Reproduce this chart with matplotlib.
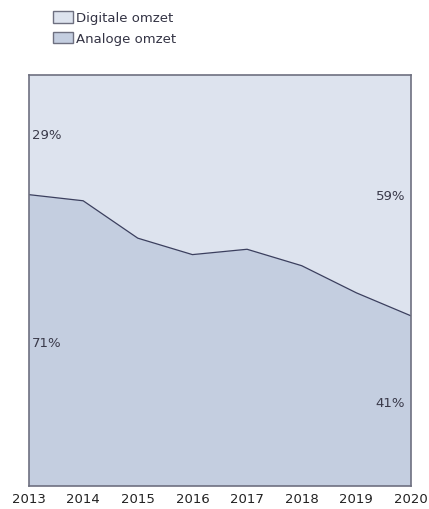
#%% IMPORTS
import matplotlib
matplotlib.use('Agg')
from matplotlib import pyplot as plt
from matplotlib.patches import Patch

#%% DATA
years = [2013, 2014, 2015, 2016, 2017, 2018, 2019, 2020]
analoog = [70.9, 69.4, 60.3, 56.3, 57.6, 53.6, 47.0, 41.4]   # % analoge omzet
digitaal = [100 - a for a in analoog]
series_names = ['Digitale omzet', 'Analoge omzet']
start_labels = ['29%', '71%']
end_labels = ['59%', '41%']

#%% STYLE
c_dig = '#dde3ee'
c_ana = '#c4cee0'
c_line = '#3b3f5e'
c_edge = '#6e7080'
c_text = '#3a3a4a'
fs = 9.5

#%% PLOT
fig = plt.figure(figsize=(4.29, 5.10), dpi=100)
ax = fig.add_axes([28.5 / 429, 1 - 487 / 510, (411 - 28.5) / 429, (487 - 76) / 510])

ax.stackplot(years, analoog, digitaal, colors=[c_ana, c_dig], linewidth=0)
ax.plot(years, analoog, color=c_line, linewidth=0.9)
ax.set_xlim(years[0], years[-1])
ax.set_ylim(0, 100)

for side in ax.spines.values():
    side.set_color(c_edge)
    side.set_linewidth(1.2)

ax.set_yticks([])
ax.set_xticks(years)
ax.tick_params(axis='x', length=0, pad=4, labelsize=fs, labelcolor='#222222')

# percentage labels
ax.text(0.01, 0.856, start_labels[0], transform=ax.transAxes, fontsize=fs,
        color=c_text, va='center', ha='left')
ax.text(0.01, 0.35, start_labels[1], transform=ax.transAxes, fontsize=fs,
        color=c_text, va='center', ha='left')
ax.text(0.985, 0.708, end_labels[0], transform=ax.transAxes, fontsize=fs,
        color=c_text, va='center', ha='right')
ax.text(0.985, 0.204, end_labels[1], transform=ax.transAxes, fontsize=fs,
        color=c_text, va='center', ha='right')

# legend
handles = [Patch(facecolor=c_dig, edgecolor=c_edge, linewidth=1),
           Patch(facecolor=c_ana, edgecolor=c_edge, linewidth=1)]
fig.legend(handles, series_names, loc='upper left', bbox_to_anchor=(53 / 429, 1 - 12 / 510),
           frameon=False, fontsize=fs, handlelength=1.5, handleheight=1.0,
           handletextpad=0.25, labelspacing=0.55, borderpad=0, borderaxespad=0,
           labelcolor='#333344')

plt.savefig('out.png', dpi=100)
